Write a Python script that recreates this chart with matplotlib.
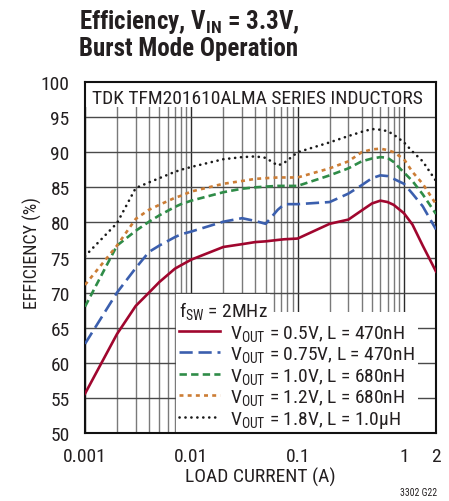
import matplotlib
matplotlib.use("Agg")
import matplotlib.pyplot as plt
from matplotlib import font_manager
from matplotlib.patches import Rectangle
from matplotlib.ticker import FixedLocator, NullFormatter

# load current (A) where the curves were read
load_current = [0.001, 0.002, 0.003, 0.004, 0.005, 0.007, 0.008, 0.01, 0.02, 0.03,
                0.04, 0.05, 0.065, 0.075, 0.1, 0.2, 0.3, 0.4, 0.5, 0.6,
                0.7, 0.8, 1.0, 1.2, 1.5, 2.0]

# efficiency (%) for each output
eff_0v5 = [55.6, 64.1, 68.1, 70.0, 71.5, 73.4, 73.9, 74.7, 76.5, 76.9,
           77.2, 77.3, 77.5, 77.6, 77.7, 79.8, 80.4, 81.7, 82.7, 83.1,
           82.9, 82.5, 81.3, 79.7, 76.7, 73.0]
eff_0v75 = [62.7, 70.0, 73.5, 75.8, 76.7, 77.9, 78.3, 78.7, 80.1, 80.6,
            80.2, 79.8, 81.8, 82.6, 82.6, 82.9, 84.1, 85.3, 86.3, 86.7,
            86.6, 86.2, 85.5, 84.1, 82.3, 79.0]
eff_1v0 = [68.0, 76.7, 78.8, 80.1, 81.0, 82.2, 82.6, 83.1, 84.3, 84.8,
           85.0, 85.1, 85.2, 85.2, 85.2, 86.7, 87.7, 88.7, 89.1, 89.3,
           89.2, 88.6, 87.1, 85.9, 84.0, 81.2]
eff_1v2 = [71.1, 76.7, 80.5, 81.8, 82.5, 83.5, 83.8, 84.4, 85.5, 85.9,
           86.2, 86.3, 86.4, 86.4, 86.4, 87.7, 88.7, 90.0, 90.4, 90.5,
           90.3, 90.0, 89.0, 87.2, 85.5, 82.6]
eff_1v8 = [75.2, 79.9, 84.9, 85.7, 86.3, 87.2, 87.5, 87.9, 89.0, 89.3,
           89.4, 89.2, 88.1, 88.5, 90.0, 91.4, 92.3, 92.9, 93.3, 93.2,
           93.0, 92.5, 91.4, 90.1, 88.7, 85.9]

series_labels = [r"V$_{\mathrm{OUT}}$ = 0.5V, L = 470nH",
                 r"V$_{\mathrm{OUT}}$ = 0.75V, L = 470nH",
                 r"V$_{\mathrm{OUT}}$ = 1.0V, L = 680nH",
                 r"V$_{\mathrm{OUT}}$ = 1.2V, L = 680nH",
                 r"V$_{\mathrm{OUT}}$ = 1.8V, L = 1.0μH"]

x_major = [0.001, 0.01, 0.1, 1, 2]
x_major_labels = ["0.001", "0.01", "0.1", "1", "2"]
x_grid_minor = [0.002, 0.003, 0.004, 0.005, 0.006, 0.007, 0.008, 0.009,
                0.02, 0.03, 0.04, 0.05, 0.06, 0.07, 0.08, 0.09,
                0.2, 0.3, 0.4, 0.5, 0.6, 0.7, 0.8, 0.9]
y_ticks = [50, 55, 60, 65, 70, 75, 80, 85, 90, 95, 100]

# look for a narrow sans font, else plain Liberation Sans
FONT, STRETCH, narrow = "Liberation Sans", "normal", False
ttf = font_manager.fontManager.ttflist
names = {f.name for f in ttf}
for cand in ["Liberation Sans Narrow", "Roboto Condensed", "Arial Narrow",
             "Nimbus Sans Narrow", "Noto Sans Condensed", "Open Sans Condensed"]:
    if cand in names:
        FONT, narrow = cand, True
        break
if not narrow:
    for fam in ["Roboto", "Noto Sans", "Open Sans"]:
        if any(f.name == fam and f.stretch == "condensed" for f in ttf):
            FONT, STRETCH, narrow = fam, "condensed", True
            break

fs = 14 if narrow else 12.5
fs_small = 14 if narrow else 11.5
fs_title = 18 if narrow else 15

plt.rcParams["font.family"] = [FONT, "DejaVu Sans"]
plt.rcParams["font.stretch"] = STRETCH
plt.rcParams["mathtext.fontset"] = "custom"
plt.rcParams["mathtext.rm"] = FONT + ":stretch=" + STRETCH
plt.rcParams["mathtext.it"] = FONT + ":italic:stretch=" + STRETCH
plt.rcParams["mathtext.bf"] = FONT + ":bold:stretch=" + STRETCH
TXT = "#231f20"

W, H = 449, 502
fig = plt.figure(figsize=(W / 100, H / 100), dpi=100)
L, R, T, B = 85, 436, 83, 434
ax = fig.add_axes([L / W, 1 - B / H, (R - L) / W, (B - T) / H])

def px(x, y):
    # pixel position inside the axes -> axes fraction
    return (x - L) / (R - L), (B - y) / (B - T)

styles = [
    dict(color="#a0062e", linestyle="-"),
    dict(color="#3b5fae", dashes=(5.0, 2.2)),
    dict(color="#2f8c48", dashes=(2.8, 1.6)),
    dict(color="#cc7d35", dashes=(1.5, 1.6)),
    dict(color="#1a1a1a", dashes=(0.05, 2.2), dash_capstyle="round"),
]
all_eff = [eff_0v5, eff_0v75, eff_1v0, eff_1v2, eff_1v8]
for eff, lab, st in zip(all_eff, series_labels, styles):
    ax.plot(load_current, eff, lw=1.9, label=lab, zorder=3, **st)

ax.set_xscale("log")
ax.set_xlim(0.001, 2)
ax.set_ylim(50, 100)
ax.set_xticks(x_major)
ax.set_xticklabels(x_major_labels)
ax.xaxis.set_minor_locator(FixedLocator(x_grid_minor))
ax.xaxis.set_minor_formatter(NullFormatter())
ax.set_yticks(y_ticks)
ax.tick_params(which="both", length=0, labelsize=fs, colors=TXT)
ax.tick_params(axis="y", pad=11)
ax.tick_params(axis="x", pad=10)

ax.set_axisbelow(True)
ax.grid(True, axis="x", which="major", color="#2a2a2a", lw=1.0)
ax.grid(True, axis="x", which="minor", color="#7a7a7a", lw=1.0)
ax.grid(True, axis="y", which="major", color="#4a4a4a", lw=1.0)
for s in ax.spines.values():
    s.set_linewidth(1.5)
    s.set_color("#111111")

# white areas behind the texts
x0, y0 = px(L, 108)
ax.add_patch(Rectangle((0, y0), 1, 1 - y0, transform=ax.transAxes,
                       facecolor="white", edgecolor="none", zorder=1))
xa, ya = px(176, 313)
xb, yb = px(270, 294.5)
ax.add_patch(Rectangle((xa, ya), xb - xa, yb - ya, transform=ax.transAxes,
                       facecolor="white", edgecolor="none", zorder=1))
xc, _ = px(418, 0)
ax.add_patch(Rectangle((xa, 0), xc - xa, ya, transform=ax.transAxes,
                       facecolor="white", edgecolor="none", zorder=1))

tx, ty = px(92, 104)
ax.text(tx, ty, "TDK TFM201610ALMA SERIES INDUCTORS", transform=ax.transAxes,
        fontsize=fs_small, color=TXT, va="baseline", ha="left", zorder=4)

lx, ly = px(179, 300)
leg = ax.legend(loc="upper left", bbox_to_anchor=(lx, ly), frameon=False,
                fontsize=fs, title=r"f$_{\mathrm{SW}}$ = 2MHz", title_fontsize=fs,
                alignment="left", borderpad=0, borderaxespad=0,
                handlelength=2.1, handletextpad=0.5,
                labelspacing=0.08 if narrow else 0.18)
for t in leg.get_texts():
    t.set_color(TXT)
leg.get_title().set_color(TXT)
leg.set_zorder(5)

ax.set_xlabel("LOAD CURRENT (A)", fontsize=fs, color=TXT)
ax.xaxis.set_label_coords(0.5, px(0, 468)[1])
ax.set_ylabel("EFFICIENCY (%)", fontsize=fs - 1, color=TXT)
ax.yaxis.set_label_coords(px(42, 0)[0], px(0, 253)[1])

fig.text(79 / W, 1 - 29 / H, r"Efficiency, V$_{\mathbf{IN}}$ = 3.3V,",
         fontsize=fs_title, fontweight="bold", color=TXT,
         va="baseline", ha="left")
fig.text(79 / W, 1 - 56 / H, "Burst Mode Operation",
         fontsize=fs_title, fontweight="bold", color=TXT,
         va="baseline", ha="left")
fig.text(437 / W, 1 - 496 / H, "3302 G22", fontsize=7, color=TXT,
         va="baseline", ha="right")

fig.savefig("out.png", dpi=100)
